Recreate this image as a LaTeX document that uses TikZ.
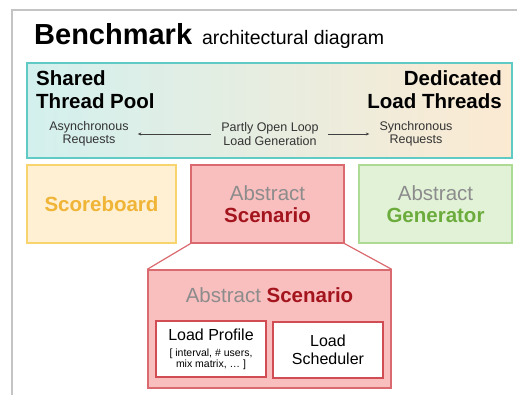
\documentclass[tikz,border=0pt]{standalone}
\usepackage{fontspec}
\setmainfont{Liberation Sans}
\usetikzlibrary{arrows.meta}

\definecolor{framegray}{HTML}{C4C4C4}
\definecolor{tealline}{HTML}{5FCBC4}
\definecolor{tealfill}{HTML}{D3F0EE}
\definecolor{peachfill}{HTML}{FCEAD2}
\definecolor{yelfill}{HTML}{FFF0D3}
\definecolor{yelline}{HTML}{F8D46E}
\definecolor{yeltext}{HTML}{F0B436}
\definecolor{pinkfill}{HTML}{F9BEBE}
\definecolor{pinkline}{HTML}{DA6A70}
\definecolor{darkred}{HTML}{A3141D}
\definecolor{innerline}{HTML}{D24C53}
\definecolor{grnfill}{HTML}{E2F2D7}
\definecolor{grnline}{HTML}{ADDB93}
\definecolor{grntext}{HTML}{6CAC3C}
\definecolor{abstractgray}{HTML}{8C8C8C}
\definecolor{smalltext}{HTML}{333333}

\newcommand{\fs}[2]{\fontsize{#1}{#2}\selectfont}

\tikzset{
  panel/.style={draw, line width=1.4pt, inner sep=0pt, align=center},
  smallnote/.style={align=center, inner sep=0pt, text=smalltext, font=\fs{12.5}{13.5}},
  flowarrow/.style={-{Stealth[length=3.5pt,width=3pt]}, line width=0.6pt, draw=black!75},
  innerbox/.style={panel, fill=white, draw=innerline, minimum width=110pt, minimum height=56pt},
  bigtext/.style={font=\fs{20.5}{22}},
  headtext/.style={inner sep=0pt, font=\fs{20.5}{23}\bfseries},
}

\begin{document}
\begin{tikzpicture}[x=1pt, y=-1pt]
  \useasboundingbox (0,0) rectangle (517,395);
  \clip (0,0) rectangle (517,395);
  \fill[white] (0,0) rectangle (517,395);

  % outer frame, open to the right and the bottom
  \draw[framegray, line width=1.6pt] (12,400) -- (12,10) -- (530,10);

  % heading
  \node[anchor=base west, inner sep=0pt] (title) at (34,45)
    {\fs{29}{31}\bfseries Benchmark\hspace{10pt}\fs{19.5}{22}\mdseries architectural diagram};

  % load generation strip
  \node[panel, draw=tealline, left color=tealfill, right color=peachfill,
        minimum width=485pt, minimum height=95pt] (strip) at (269.5,110.5) {};
  \node[headtext, anchor=north west, align=left] (shared) at (36,70) {Shared\\Thread Pool};
  \node[headtext, anchor=north east, align=right] (dedicated) at (502,70) {Dedicated\\Load Threads};
  \node[smallnote] (async) at (89,134) {Asynchronous\\Requests};
  \node[smallnote] (partly) at (270,134) {Partly Open Loop\\Load Generation};
  \node[smallnote] (sync) at (416,134) {Synchronous\\Requests};
  \draw[flowarrow, shorten <=10pt, shorten >=9pt] (partly.west) -- (async.east);
  \draw[flowarrow, shorten <=9pt, shorten >=10pt] (partly.east) -- (sync.west);

  % component row
  \node[panel, draw=yelline, fill=yelfill, minimum width=149pt, minimum height=78pt,
        text=yeltext, font=\fs{20.5}{23}\bfseries] (score) at (101.5,204) {Scoreboard};
  \node[panel, bigtext, draw=pinkline, fill=pinkfill, minimum width=153pt, minimum height=78pt]
    (scen) at (267.5,204)
    {\textcolor{abstractgray}{Abstract}\\\textcolor{darkred}{\bfseries Scenario}};
  \node[panel, bigtext, draw=grnline, fill=grnfill, minimum width=153pt, minimum height=78pt]
    (gen) at (435.5,204)
    {\textcolor{abstractgray}{Abstract}\\\textcolor{grntext}{\bfseries Generator}};

  % expanded scenario
  \node[panel, draw=pinkline, fill=pinkfill, minimum width=243pt, minimum height=118pt]
    (lower) at (269.5,329) {};
  \draw[pinkline, line width=1.2pt] (scen.south west) -- (lower.north west);
  \draw[pinkline, line width=1.2pt] (scen.south east) -- (lower.north east);
  \node[inner sep=0pt, bigtext] (lowtitle) at (269.5,295)
    {\textcolor{abstractgray}{Abstract} \textcolor{darkred}{\bfseries Scenario}};

  \node[innerbox, font=\fs{16}{18}] (profile) at (211,349)
    {Load Profile\\[-2pt]{\fs{10.5}{11}[ interval, \# users,}\\[-7pt]{\fs{10.5}{11}mix matrix, \dots\ ]}};
  \node[innerbox, font=\fs{16}{18}] (sched) at (328,350)
    {Load\\Scheduler};
\end{tikzpicture}
\end{document}
